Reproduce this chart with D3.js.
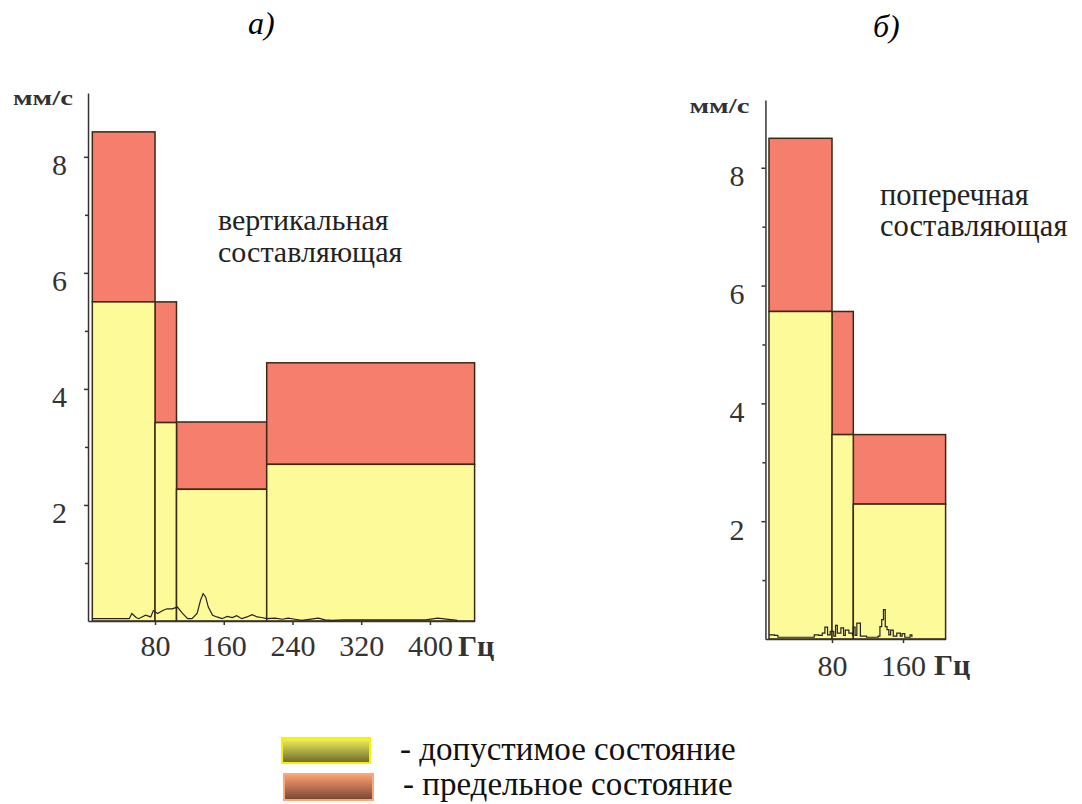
<!DOCTYPE html>
<meta charset="utf-8">
<style>
  body { margin: 0; background: #fff; }
  svg { display: block; }
  .bar { stroke: #3a2a14; stroke-width: 1.5px; }
  .allow { fill: #fdfa9a; }
  .limit { fill: #f57e6d; }
  .axis path, .axis line { stroke: #333; stroke-width: 1.5px; }
  .spec { fill: none; stroke: #222; stroke-width: 1.2px; }
</style>
<svg width="1082" height="804"></svg>
<script src="https://d3js.org/d3.v7.min.js"></script>
<script>

  var FONT = "Liberation Serif";

  // ---- data ----
  var yTicks = [2, 4, 6, 8];
  var yMinorTicks = [1, 3, 5, 7];

  // panel a) vertical component
  var aBands = [7, 80, 105, 210, 452];          // band edges, Hz
  var aAllowable = [5.5, 3.42, 2.27, 2.7];      // mm/s
  var aLimit = [8.43, 5.5, 3.43, 4.45];         // mm/s
  var aXTicks = [80, 160, 240, 320, 400];
  var aSpecFreq = [7, 50, 53, 58, 61, 69, 75, 78, 83, 89, 94, 100, 106, 112, 118, 123, 129, 133, 136, 139, 142, 147,
    152, 158, 164, 170, 175, 181, 187, 193, 199, 204, 210, 220, 228, 235, 243, 251, 270, 278, 286, 300, 340, 370, 395, 409, 432];
  var aSpecAmp = [0.04, 0.04, 0.13, 0.06, 0.04, 0.1, 0.07, 0.18, 0.13, 0.18, 0.21, 0.21, 0.24, 0.13, 0.04, 0.04, 0.13, 0.36, 0.47, 0.41, 0.24, 0.1,
    0.07, 0.04, 0.08, 0.06, 0.09, 0.04, 0.07, 0.11, 0.07, 0.06, 0.04, 0.05, 0.03, 0.05, 0.03, 0.01, 0.05, 0.02, 0.01, 0.02, 0.02, 0.02, 0.02, 0.05, 0.01];

  // panel б) transverse component
  var bBands = [9, 80, 104, 208];
  var bAllowable = [5.56, 3.47, 2.29];
  var bLimit = [8.5, 5.56, 3.47];
  var bXTicks = [80, 160];
  var bSpecFreq = [9, 15, 19, 56, 60, 65, 69, 72, 75, 78, 82, 84, 86, 90, 93, 95, 99, 103, 104, 106, 108, 112, 119,
    132, 134, 136, 138, 140, 142, 144, 146, 149, 153, 157, 159, 162, 168, 170];
  var bSpecAmp = [0.07, 0.06, 0.03, 0.03, 0.07, 0.06, 0.1, 0.2, 0.07, 0.13, 0.05, 0.23, 0.1, 0.19, 0.06, 0.15, 0.1, 0.07, 0.2, 0.06, 0.27, 0.05, 0.03,
    0.05, 0.21, 0.33, 0.5, 0.21, 0.16, 0.07, 0.15, 0.05, 0.1, 0.05, 0.09, 0.03, 0.07, 0.03];

  var legendLabels = ["- допустимое состояние", "- предельное состояние"];

  var svg = d3.select("svg");

  function drawPanel(p) {
    var x = d3.scaleLinear().domain(p.xDomain).range(p.xRange);
    var y = d3.scaleLinear().domain(p.yDomain).range(p.yRange);
    var g = svg.append("g");

    var bars = p.allow.map(function (v, i) {
      return { x0: p.bands[i], x1: p.bands[i + 1], allow: v, limit: p.limit[i] };
    });

    g.selectAll("rect.limit").data(bars).enter().append("rect")
      .attr("class", "bar limit")
      .attr("x", function (d) { return x(d.x0); })
      .attr("width", function (d) { return x(d.x1) - x(d.x0); })
      .attr("y", function (d) { return y(d.limit); })
      .attr("height", function (d) { return y(d.allow) - y(d.limit); });

    g.selectAll("rect.allow").data(bars).enter().append("rect")
      .attr("class", "bar allow")
      .attr("x", function (d) { return x(d.x0); })
      .attr("width", function (d) { return x(d.x1) - x(d.x0); })
      .attr("y", function (d) { return y(d.allow); })
      .attr("height", function (d) { return y(0) - y(d.allow); });

    var spec = p.specFreq.map(function (f, i) { return [f, p.specAmp[i]]; });
    g.append("path")
      .attr("class", "spec")
      .attr("d", d3.line()
        .curve(p.stepped ? d3.curveStepAfter : d3.curveLinear)
        .x(function (d) { return x(d[0]); })
        .y(function (d) { return y(d[1]); })(spec));

    var ax = x(p.axisAt);

    // y axis
    var yAxis = g.append("g").attr("class", "axis")
      .attr("transform", "translate(" + ax + ",0)")
      .call(d3.axisLeft(y).tickValues(yTicks).tickSize(4).tickPadding(17).tickSizeOuter(0));
    yAxis.selectAll("text")
      .attr("font-family", FONT).attr("font-size", 30).attr("fill", "#333")
      .attr("dy", "0.6em");
    g.append("g").attr("class", "axis")
      .attr("transform", "translate(" + ax + ",0)")
      .call(d3.axisLeft(y).tickValues(yMinorTicks).tickSize(3).tickFormat("").tickSizeOuter(0))
      .select(".domain").remove();

    // x axis
    var xs = d3.scaleLinear().domain([p.axisAt, p.xDomain[1]]).range([ax, p.xRange[1]]);
    var xAxis = g.append("g").attr("class", "axis")
      .attr("transform", "translate(0," + y(0) + ")")
      .call(d3.axisBottom(xs).tickValues(p.xTicks).tickSize(4).tickPadding(p.xPad).tickSizeOuter(0));
    xAxis.selectAll("text")
      .attr("font-family", FONT).attr("font-size", 30).attr("fill", "#333");

    var last = p.xTicks[p.xTicks.length - 1];
    g.append("text")
      .attr("x", x(last) + p.hzDx).attr("y", y(0) + p.hzDy)
      .attr("font-family", FONT).attr("font-size", 30).attr("font-weight", "bold").attr("fill", "#333")
      .text("Гц");

    g.append("text")
      .attr("x", ax - p.unitDx).attr("y", y(p.yDomain[1]) + p.unitDy)
      .attr("font-family", FONT).attr("font-size", 22).attr("font-weight", "bold").attr("fill", "#333")
      .attr("textLength", 60).attr("lengthAdjust", "spacingAndGlyphs")
      .text("мм/с");

    g.selectAll("text.note").data(p.note).enter().append("text")
      .attr("class", "note")
      .attr("x", p.noteX)
      .attr("y", function (d, i) { return p.noteY + i * p.noteGap; })
      .attr("font-family", FONT).attr("font-size", p.noteSize).attr("fill", "#222")
      .text(function (d) { return d; });

    svg.append("text")
      .attr("x", p.titleX).attr("y", p.titleY)
      .attr("font-family", FONT).attr("font-size", 32).attr("font-style", "italic")
      .text(p.title);
  }

  drawPanel({
    bands: aBands, allow: aAllowable, limit: aLimit, xTicks: aXTicks,
    specFreq: aSpecFreq, specAmp: aSpecAmp, stepped: false,
    xDomain: [0, 452], xRange: [86.3, 474.6], axisAt: 2,
    yDomain: [0, 9.1], yRange: [621, 93], xPad: 10,
    note: ["вертикальная", "составляющая"], noteX: 218, noteY: 230, noteGap: 32, noteSize: 30,
    hzDx: 28, hzDy: 35, unitDx: 75, unitDy: 12, title: "а)", titleX: 248, titleY: 34
  });

  drawPanel({
    bands: bBands, allow: bAllowable, limit: bLimit, xTicks: bXTicks,
    specFreq: bSpecFreq, specAmp: bSpecAmp, stepped: true,
    xDomain: [0, 208], xRange: [761, 945.6], axisAt: 5,
    yDomain: [0, 9.15], yRange: [639, 100], xPad: 12,
    note: ["поперечная", "составляющая"], noteX: 880, noteY: 205, noteGap: 31, noteSize: 30.5,
    hzDx: 31, hzDy: 36, unitDx: 76, unitDy: 13, title: "б)", titleX: 873, titleY: 37
  });

  // legend
  var defs = svg.append("defs");
  var gradY = defs.append("linearGradient").attr("id", "gy").attr("x1", 0).attr("y1", 0).attr("x2", 0).attr("y2", 1);
  gradY.append("stop").attr("offset", "0%").attr("stop-color", "#f6f45c");
  gradY.append("stop").attr("offset", "100%").attr("stop-color", "#6a682c");
  var gradO = defs.append("linearGradient").attr("id", "go").attr("x1", 0).attr("y1", 0).attr("x2", 0).attr("y2", 1);
  gradO.append("stop").attr("offset", "0%").attr("stop-color", "#ffa272");
  gradO.append("stop").attr("offset", "100%").attr("stop-color", "#764530");

  var legend = svg.append("g");
  var swatches = [
    { x: 282, y: 738, w: 88, h: 25, fill: "url(#gy)", stroke: "#f7f200", tx: 400, ty: 760 },
    { x: 284, y: 774, w: 89, h: 26, fill: "url(#go)", stroke: "#f9a87c", tx: 403, ty: 795 }
  ];
  legend.selectAll("rect").data(swatches).enter().append("rect")
    .attr("x", function (d) { return d.x; }).attr("y", function (d) { return d.y; })
    .attr("width", function (d) { return d.w; }).attr("height", function (d) { return d.h; })
    .attr("fill", function (d) { return d.fill; })
    .attr("stroke", function (d) { return d.stroke; }).attr("stroke-width", 2);
  legend.selectAll("text").data(swatches).enter().append("text")
    .attr("x", function (d) { return d.tx; }).attr("y", function (d) { return d.ty; })
    .attr("font-family", FONT).attr("font-size", 33).attr("fill", "#111")
    .text(function (d, i) { return legendLabels[i]; });

</script>
